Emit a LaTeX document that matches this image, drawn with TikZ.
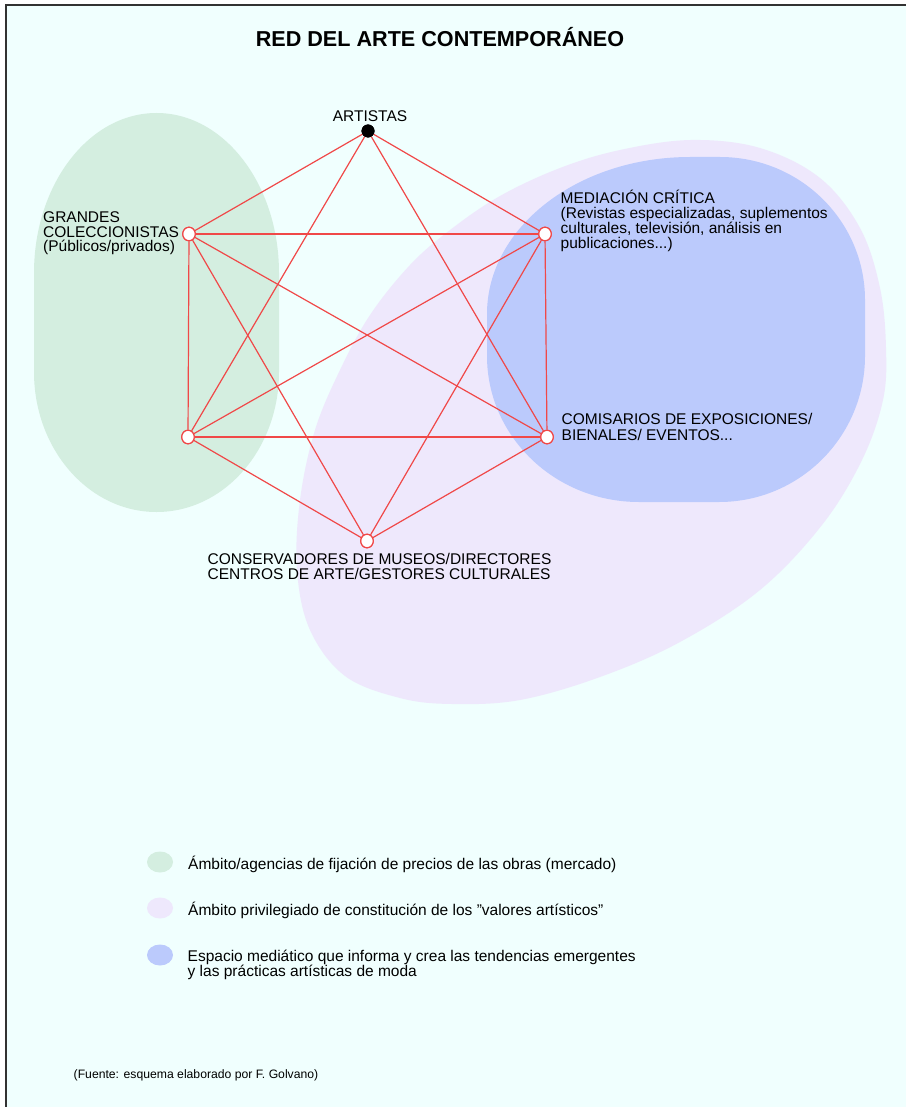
\documentclass[tikz,border=0pt]{standalone}
\usepackage{fontspec}
\setmainfont{Liberation Sans}
\usetikzlibrary{shapes.geometric}
\definecolor{bgc}{RGB}{240,255,254}
\definecolor{greenz}{RGB}{212,238,224}
\definecolor{lavz}{RGB}{238,232,252}
\definecolor{bluez}{RGB}{187,202,252}
\definecolor{redl}{RGB}{240,72,72}
\definecolor{framec}{RGB}{50,50,50}
\begin{document}
\begin{tikzpicture}[x=1pt,y=-1pt]
\tikzset{
  edge/.style={draw=redl, line width=1.2pt},
  vtx/.style={ellipse, draw=redl, fill=white, line width=1.2pt, minimum width=12.5pt, minimum height=13.5pt, inner sep=0pt},
  blackvtx/.style={circle, fill=black, draw=black, minimum size=12.5pt, inner sep=0pt},
  lbl/.style={inner sep=0pt, align=left, text=black},
  legdot/.style={ellipse, minimum width=26pt, minimum height=21pt, inner sep=0pt},
}
% canvas
\useasboundingbox (0,0) rectangle (906,1107);
\fill[white] (0,0) rectangle (906,1107);
\fill[bgc] (6,5) rectangle (906,1107);
\draw[framec, line width=1.6pt] (6,1107) -- (6,5) -- (906,5);

% green zone
\fill[greenz] (34,273) .. controls (34,184.6) and (88.8,113) .. (156.5,113)
  .. controls (224.2,113) and (279,184.6) .. (279,273) -- (279,372)
  .. controls (279,449.3) and (224.2,512) .. (156.5,512)
  .. controls (88.8,512) and (34,449.3) .. (34,372) -- cycle;

% lavender zone
\fill[lavz] plot[smooth cycle, tension=0.6] coordinates {
  (691,140) (760,148) (820,178) (860,228) (880,288) (886,348) (883,400)
  (862,460) (822,525) (760,590) (680,642) (600,677) (520,700) (452,704)
  (400,698) (345,676) (310,630) (297,570) (300,500) (315,430) (340,370)
  (370,315) (410,265) (450,230) (500,196) (560,168) (620,150)};

% blue zone
\fill[bluez] (690,157) -- (720,157) .. controls (800.1,157) and (865,221) .. (865,300)
  -- (865,356) .. controls (865,436.6) and (799.6,502) .. (719,502)
  -- (639,502) .. controls (555,502) and (487,436.6) .. (487,356)
  -- (487,314) .. controls (487,227.3) and (577.9,157) .. (690,157) -- cycle;

% title
\node[font=\fontsize{21.6}{21.6}\selectfont\bfseries, inner sep=0pt, anchor=base] (title) at (440,46.5) {RED DEL ARTE CONTEMPORÁNEO};

% vertices
\node[blackvtx] (A) at (368,131) {};
\node[vtx] (G) at (189,234) {};
\node[vtx] (M) at (545,234) {};
\node[vtx] (L) at (188,437) {};
\node[vtx] (C) at (547,437) {};
\node[vtx] (K) at (367,541) {};

% edges
\foreach \a/\b in {A/G,A/M,A/L,A/C,G/M,G/L,G/C,G/K,M/C,M/L,M/K,L/C,L/K,C/K}
  \draw[edge] (\a) -- (\b);
% vertices again on top of the edges
\node[blackvtx] at (A) {};
\node[vtx] at (G) {};
\node[vtx] at (M) {};
\node[vtx] at (L) {};
\node[vtx] at (C) {};
\node[vtx] at (K) {};

% labels (base anchor = baseline of the last line)
\node[lbl, font=\fontsize{15.5}{15.5}\selectfont, anchor=base] (la) at (370,121.5) {ARTISTAS};
\node[lbl, font=\fontsize{15.5}{14.5}\selectfont, anchor=base west] (lg) at (43,251.7) {GRANDES\\COLECCIONISTAS\\(Públicos/privados)};
\node[lbl, font=\fontsize{15.5}{15}\selectfont, anchor=base west] (lm) at (560.5,248.6) {MEDIACIÓN CRÍTICA\\(Revistas especializadas, suplementos\\culturales, televisión, análisis en\\publicaciones...)};
\node[lbl, font=\fontsize{15.5}{15.8}\selectfont, anchor=base west] (lc) at (561.5,440.5) {COMISARIOS DE EXPOSICIONES/\\BIENALES/ EVENTOS...};
\node[lbl, font=\fontsize{15.5}{14.7}\selectfont, anchor=base west] (lk) at (207.5,579) {CONSERVADORES DE MUSEOS/DIRECTORES\\CENTROS DE ARTE/GESTORES CULTURALES};

% legend
\node[legdot, fill=greenz] (d1) at (160,862) {};
\node[legdot, fill=lavz] (d2) at (160,908) {};
\node[legdot, fill=bluez] (d3) at (160,955) {};
\node[lbl, font=\fontsize{15.5}{15.5}\selectfont, anchor=base west] (t1) at (188,869) {Ámbito/agencias de fijación de precios de las obras (mercado)};
\node[lbl, font=\fontsize{15.5}{15.5}\selectfont, anchor=base west] (t2) at (188,915) {Ámbito privilegiado de constitución de los ”valores artísticos”};
\node[lbl, font=\fontsize{15.5}{14.4}\selectfont, anchor=base west] (t3) at (187.5,976.7) {Espacio mediático que informa y crea las tendencias emergentes\\y las prácticas artísticas de moda};

% source
\node[font=\fontsize{12.2}{12.2}\selectfont, inner sep=0pt, anchor=base west] (src) at (73.5,1078) {(Fuente: esquema elaborado por F. Golvano)};
\end{tikzpicture}
\end{document}
